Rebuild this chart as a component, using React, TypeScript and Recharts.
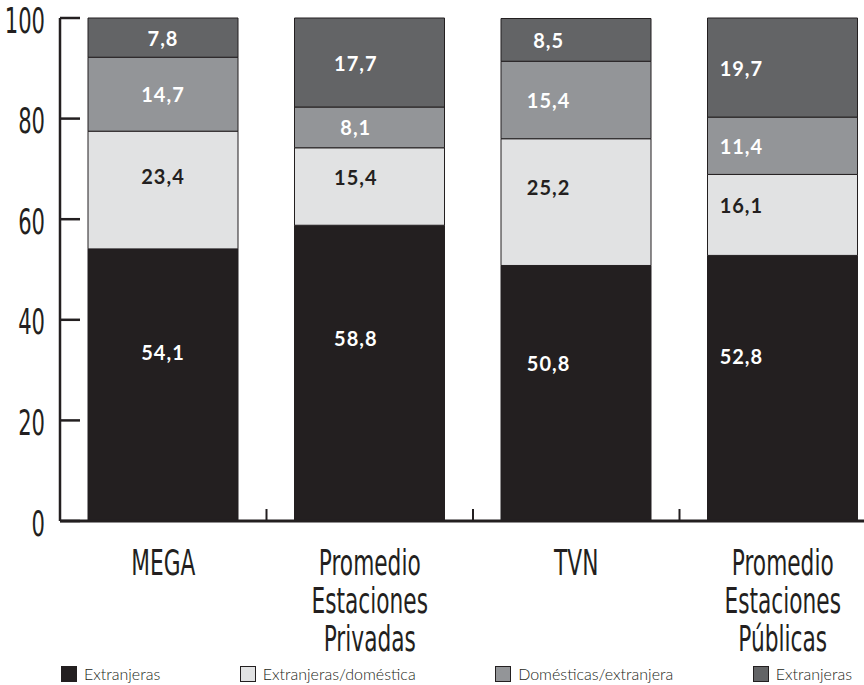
import React from 'react';
import { BarChart, Bar, XAxis, YAxis, LabelList } from 'recharts';

const categories = ['MEGA', 'Promedio Estaciones Privadas', 'TVN', 'Promedio Estaciones Públicas'];
const extranjeras = [54.1, 58.8, 50.8, 52.8];
const extDomestica = [23.4, 15.4, 25.2, 16.1];
const domExtranjera = [14.7, 8.1, 15.4, 11.4];
const extranjerasTop = [7.8, 17.7, 8.5, 19.7];
const yTicks = [0, 20, 40, 60, 80, 100];
const seriesNames = ['Extranjeras', 'Extranjeras/doméstica', 'Domésticas/extranjera', 'Extranjeras'];
const seriesKeys = ['s1', 's2', 's3', 's4'];
const seriesColors = ['#231f20', '#e1e2e3', '#939598', '#636466'];
const labelColors = ['#ffffff', '#231f20', '#ffffff', '#ffffff'];

const data = categories.map((c, i) => ({
  name: c,
  s1: extranjeras[i],
  s2: extDomestica[i],
  s3: domExtranjera[i],
  s4: extranjerasTop[i],
}));

const CHART_W = 886;
const CHART_H = 685;
const PLOT_LEFT = 60;
const PLOT_TOP = 18;
const PLOT_BOTTOM = 521;
const BAND = (CHART_W - PLOT_LEFT) / categories.length;
const INK = '#231f20';
const NARROW = "'Liberation Sans Narrow', 'DejaVu Sans Condensed', sans-serif";
const SX = 0.67;

const fmt = (v: number) => v.toFixed(1).replace('.', ',');

const YTick = (props: any) => {
  const { y, payload } = props;
  return (
    <g>
      <line x1={PLOT_LEFT} x2={PLOT_LEFT + 20} y1={y} y2={y} stroke={INK} strokeWidth={2.5} />
      <text
        transform={`translate(45, ${y + 14.5}) scale(${SX}, 1)`}
        textAnchor="end"
        fontFamily={NARROW}
        fontSize={35}
        fill={INK}
      >
        {payload.value}
      </text>
    </g>
  );
};

const XTick = (props: any) => {
  const { x, payload, index } = props;
  const lines = String(payload.value).split(' ');
  const bx = x - BAND / 2;
  return (
    <g>
      {index > 0 && (
        <line x1={bx} x2={bx} y1={PLOT_BOTTOM} y2={PLOT_BOTTOM - 12} stroke={INK} strokeWidth={2} />
      )}
      <text
        transform={`translate(${x}, 575) scale(${SX}, 1)`}
        textAnchor="middle"
        fontFamily={NARROW}
        fontSize={36}
        fill={INK}
      >
        {lines.map((ln, i) => (
          <tspan key={i} x={0} y={i * 38}>
            {ln}
          </tspan>
        ))}
      </text>
    </g>
  );
};

const makeLabel = (seriesIdx: number) => (props: any) => {
  const x = Number(props.x);
  const y = Number(props.y);
  const w = Number(props.width);
  const h = Number(props.height);
  const idx = Math.floor((x - PLOT_LEFT) / BAND);
  const cx = x + w / 2 - idx * 13.7;
  const frac = seriesIdx < 2 ? 0.38 : 0.5;
  const cy = y + h * frac;
  return (
    <text
      x={cx}
      y={cy}
      textAnchor="middle"
      dominantBaseline="central"
      fontFamily="Lato, 'Open Sans', sans-serif"
      fontWeight={700}
      fontSize={20}
      letterSpacing={1}
      fill={labelColors[seriesIdx]}
    >
      {fmt(Number(props.value))}
    </text>
  );
};

export default function App() {
  return (
    <div style={{ position: 'absolute', left: 0, top: 0, width: 864, height: 685, overflow: 'hidden', background: '#fff' }}>
      <BarChart
        width={CHART_W}
        height={CHART_H}
        data={data}
        margin={{ top: PLOT_TOP, right: 0, left: 0, bottom: 0 }}
      >
        <XAxis
          dataKey="name"
          height={CHART_H - PLOT_BOTTOM}
          axisLine={{ stroke: INK, strokeWidth: 3 }}
          tickLine={false}
          tick={<XTick />}
          interval={0}
        />
        <YAxis
          width={PLOT_LEFT}
          domain={[0, 100]}
          ticks={yTicks}
          axisLine={{ stroke: INK, strokeWidth: 2.5 }}
          tickLine={false}
          tick={<YTick />}
          interval={0}
        />
        {seriesKeys.map((k, i) => (
          <Bar
            key={k}
            dataKey={k}
            name={seriesNames[i]}
            stackId="a"
            fill={seriesColors[i]}
            stroke={INK}
            strokeWidth={1}
            barSize={150}
            isAnimationActive={false}
          >
            <LabelList dataKey={k} content={makeLabel(i)} />
          </Bar>
        ))}
      </BarChart>
      <div
        style={{
          position: 'absolute',
          left: 61,
          width: 791,
          top: 665,
          display: 'flex',
          justifyContent: 'space-between',
          alignItems: 'center',
          fontFamily: "Lato, 'Open Sans', sans-serif",
          fontWeight: 300,
          fontSize: 16,
          color: '#231f20',
          lineHeight: '18px',
        }}
      >
        {seriesNames.map((n, i) => (
          <div key={i} style={{ display: 'flex', alignItems: 'center' }}>
            <span
              style={{
                display: 'inline-block',
                width: 14,
                height: 14,
                background: seriesColors[i],
                border: '1px solid #231f20',
                marginRight: 7,
              }}
            />
            <span>{n}</span>
          </div>
        ))}
      </div>
    </div>
  );
}
